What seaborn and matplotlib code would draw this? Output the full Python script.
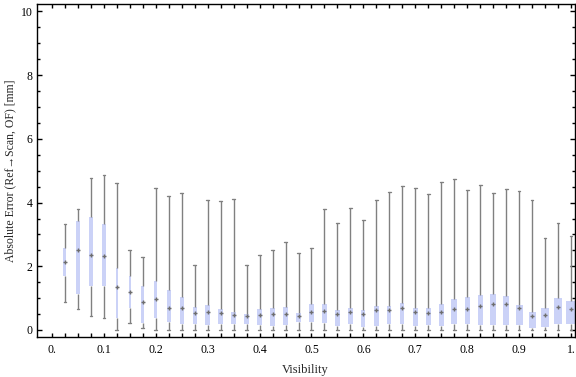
import numpy as np
import pandas as pd
import matplotlib
matplotlib.use("Agg")
import matplotlib.pyplot as plt
from matplotlib.path import Path
import seaborn as sns

# Vrijednosti ocitane sa slike (min, Q1, medijan, Q3, max po vidljivosti)
vis = [0.025, 0.05, 0.075, 0.1, 0.125, 0.15, 0.175, 0.2, 0.225, 0.25,
       0.275, 0.3, 0.325, 0.35, 0.375, 0.4, 0.425, 0.45, 0.475, 0.5,
       0.525, 0.55, 0.575, 0.6, 0.625, 0.65, 0.675, 0.7, 0.725, 0.75,
       0.775, 0.8, 0.825, 0.85, 0.875, 0.9, 0.925, 0.95, 0.975, 1.0]
err_min = [0.87, 0.67, 0.45, 0.39, 0.01, 0.23, 0.07, 0.0, 0.0, 0.0,
           0.0, 0.0, 0.0, 0.0, 0.0, 0.0, 0.0, 0.0, 0.0, 0.0,
           0.0, 0.0, 0.0, 0.0, 0.0, 0.0, 0.0, 0.0, 0.0, 0.0,
           0.0, 0.0, 0.0, 0.0, 0.0, 0.0, 0.0, 0.0, 0.0, 0.0]
err_q1 = [1.70, 1.12, 1.39, 1.39, 0.37, 0.70, 0.22, 0.39, 0.26, 0.20,
          0.20, 0.17, 0.20, 0.20, 0.20, 0.16, 0.14, 0.16, 0.24, 0.26,
          0.22, 0.14, 0.20, 0.09, 0.14, 0.20, 0.20, 0.14, 0.17, 0.14,
          0.20, 0.20, 0.17, 0.17, 0.17, 0.17, 0.07, 0.10, 0.20, 0.20]
err_med = [2.13, 2.51, 2.35, 2.32, 1.36, 1.20, 0.87, 0.97, 0.70, 0.70,
           0.52, 0.58, 0.52, 0.48, 0.43, 0.47, 0.49, 0.51, 0.43, 0.55,
           0.61, 0.51, 0.55, 0.51, 0.64, 0.64, 0.69, 0.57, 0.52, 0.55,
           0.65, 0.66, 0.74, 0.81, 0.81, 0.69, 0.45, 0.48, 0.72, 0.66]
err_q3 = [2.57, 3.43, 3.54, 3.32, 1.95, 1.70, 1.39, 1.54, 1.26, 1.04,
          0.72, 0.78, 0.66, 0.55, 0.50, 0.66, 0.69, 0.72, 0.53, 0.82,
          0.82, 0.63, 0.69, 0.64, 0.75, 0.75, 0.85, 0.69, 0.69, 0.82,
          0.97, 1.04, 1.10, 1.13, 1.07, 0.78, 0.57, 0.69, 1.00, 0.91]
err_max = [3.32, 3.79, 4.77, 4.87, 4.62, 2.51, 2.29, 4.45, 4.20, 4.30,
           2.03, 4.07, 4.04, 4.10, 2.03, 2.34, 2.50, 2.75, 2.41, 2.56,
           3.79, 3.35, 3.82, 3.44, 4.07, 4.32, 4.51, 4.45, 4.26, 4.64,
           4.73, 4.39, 4.54, 4.29, 4.42, 4.35, 4.07, 2.88, 3.35, 2.94]

# sirina kutija u pikselima (ocitano sa slike)
box_width_px = [3, 3.3, 3.3, 3.3, 2.3, 2.3, 2.7, 3.3, 3.7, 4,
                4.3, 4.4, 5, 5, 5, 5, 5, 5, 4.7, 5.3,
                4.5, 4.5, 4.5, 4.2, 4.7, 4, 4.2, 5, 5, 5.2,
                5.5, 5, 5, 6, 6.3, 7, 7, 7.7, 8, 10]

x_ticks = np.round(np.arange(0, 1.01, 0.1), 1)
x_labels = ["0.", "0.1", "0.2", "0.3", "0.4", "0.5", "0.6", "0.7", "0.8", "0.9", "1."]

# pet vrijednosti po grupi -> kvartili su tocno Q1 i Q3
rows = []
for v, a, b, c, d, e in zip(vis, err_min, err_q1, err_med, err_q3, err_max):
    for val in (a, b, c, d, e):
        rows.append({"vis": v, "err": val})
df = pd.DataFrame(rows)

sns.set_style("ticks")
plt.rcParams["font.family"] = ["Liberation Serif", "DejaVu Serif"]

fig = plt.figure(figsize=(5.76, 3.77), dpi=100)
ax = fig.add_axes([0.0637, 0.1061, 0.9340, 0.8833])

box_color = "#cbd2f7"
line_color = "#808080"
sns.boxplot(data=df, x="vis", y="err", native_scale=True, whis=(0, 100),
            width=0.2, color=box_color, linecolor=line_color, linewidth=1.0,
            showfliers=False, saturation=1,
            boxprops={"edgecolor": "none"},
            medianprops={"visible": False}, ax=ax)

# sirine kutija i kapica
px = 1.0 / 519.0
for patch in ax.patches:
    verts = patch.get_path().vertices
    cx = (verts[:, 0].min() + verts[:, 0].max()) / 2
    y0, y1 = verts[:, 1].min(), verts[:, 1].max()
    i = int(np.argmin(np.abs(np.array(vis) - cx)))
    hw = box_width_px[i] * px / 2
    patch.set_path(Path([(cx - hw, y0), (cx + hw, y0), (cx + hw, y1),
                         (cx - hw, y1), (cx - hw, y0)],
                        [Path.MOVETO, Path.LINETO, Path.LINETO, Path.LINETO, Path.CLOSEPOLY]))
    patch.set_zorder(2)
for line in ax.lines:
    xd = np.asarray(line.get_xdata(), dtype=float)
    yd = np.asarray(line.get_ydata(), dtype=float)
    if len(xd) == 2 and yd[0] == yd[1] and xd[0] != xd[1]:
        c = xd.mean()
        line.set_xdata([c - 1.4 * px, c + 1.4 * px])

# medijani
sns.scatterplot(x=vis, y=err_med, marker="+", s=10, color="#6e6e6e",
                linewidth=1.0, zorder=4, legend=False, ax=ax)

ax.set_xlim(-0.0295, 1.0071)
ax.set_ylim(-0.22, 10.235)
ax.set_xticks(x_ticks)
ax.set_xticklabels(x_labels)
ax.set_xticks(np.round(np.arange(0, 1.001, 0.025), 3), minor=True)
ax.set_yticks([0, 2, 4, 6, 8, 10])
ax.set_yticks(np.arange(0, 10.01, 0.5), minor=True)

ax.tick_params(which="both", direction="in", top=True, right=True,
               colors="black", labelsize=8.5, width=1.0)
ax.tick_params(axis="x", which="both", length=3, pad=5)
ax.tick_params(axis="y", which="major", length=3.5, pad=3)
ax.tick_params(axis="y", which="minor", length=2)
for s in ax.spines.values():
    s.set_visible(True)
    s.set_color("black")
    s.set_linewidth(1.0)

ax.set_xlabel("Visibility", fontsize=9, labelpad=6)
ax.set_ylabel("Absolute Error (Ref\u2192Scan, OF) [mm]", fontsize=8.5, labelpad=3)

fig.savefig("out.png", dpi=100)
